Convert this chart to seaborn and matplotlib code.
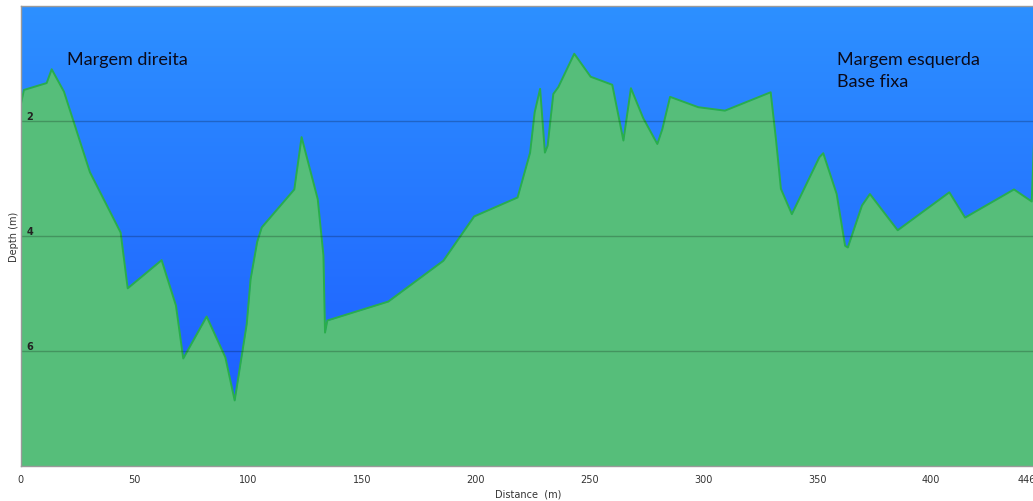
import numpy as np
import pandas as pd
import matplotlib
matplotlib.use("Agg")
import matplotlib.pyplot as plt
import matplotlib.transforms as mtransforms
import seaborn as sns
from matplotlib.colors import LinearSegmentedColormap

# Cross-section survey: distance along the section (m) and bed depth (m)
distance = [0.0, 1.5, 11.5, 13.7, 19.1, 30.5, 44.0, 47.1, 62.0, 68.3, 71.5,
            81.8, 90.0, 94.1, 99.4, 101.1, 104.0, 106.0, 120.3, 123.5, 130.6,
            133.1, 133.8, 134.8, 161.6, 185.8, 199.3, 218.4, 223.9, 225.9,
            228.3, 230.4, 231.6, 234.1, 236.3, 243.3, 250.5, 260.0, 264.9,
            268.2, 273.6, 279.8, 282.0, 285.4, 297.8, 309.5, 329.6, 331.9,
            334.1, 338.9, 351.0, 352.7, 358.6, 362.3, 363.5, 369.7, 373.2,
            385.4, 408.1, 415.0, 436.5, 444.3, 445.3]
depth = [1.74, 1.46, 1.34, 1.10, 1.49, 2.89, 3.94, 4.91, 4.42, 5.21, 6.13,
         5.40, 6.11, 6.86, 5.53, 4.75, 4.10, 3.85, 3.19, 2.28, 3.36,
         4.34, 5.68, 5.47, 5.14, 4.43, 3.66, 3.33, 2.55, 1.85,
         1.44, 2.55, 2.43, 1.53, 1.41, 0.83, 1.23, 1.37, 2.34,
         1.43, 1.95, 2.40, 2.14, 1.58, 1.76, 1.82, 1.50, 2.31,
         3.18, 3.62, 2.63, 2.56, 3.27, 4.17, 4.20, 3.47, 3.27,
         3.90, 3.24, 3.68, 3.19, 3.40, 2.35]

x_ticks = [0, 50, 100, 150, 200, 250, 300, 350, 400, 446]
y_ticks = [2, 4, 6]
max_depth = 8.0

profile = pd.DataFrame({"Distance": distance, "Depth": depth})

sns.set_style("white")
plt.rcParams["font.family"] = ["DejaVu Sans"]

fig = plt.figure(figsize=(10.33, 5.02), dpi=100)
ax = fig.add_axes([20.5 / 1033, 35 / 502, 1015.1 / 1033, 460 / 502])

# water column: vertical blue gradient
water = LinearSegmentedColormap.from_list("water", ["#2D90FF", "#1C58FF"])
grad = np.linspace(0, 1, 256).reshape(-1, 1)
ax.imshow(grad, cmap=water, aspect="auto", extent=[0, 446, max_depth, 0],
          zorder=0, interpolation="bicubic")

# river bed
ax.fill_between(profile["Distance"], profile["Depth"], max_depth,
                color="#56BE7A", linewidth=0, zorder=1)
sns.lineplot(data=profile, x="Distance", y="Depth", ax=ax, sort=False,
             color="#29AE4C", linewidth=1.4, zorder=2)

ax.set_xlim(0, 446)
ax.set_ylim(max_depth, 0)

# depth grid lines drawn over the bed
for yv in y_ticks:
    ax.axhline(yv, color="black", alpha=0.22, linewidth=1.0, zorder=3)

ax.set_xticks(x_ticks)
ax.set_xticklabels([str(v) for v in x_ticks])
ax.set_yticks(y_ticks)
ax.set_yticklabels([str(v) for v in y_ticks])
ax.tick_params(axis="x", direction="out", length=4, width=0.8, color="#808080",
               labelsize=7, labelcolor="#333333", pad=2)
ax.tick_params(axis="y", length=0, pad=-9, labelsize=7, labelcolor="#222222")
for lab in ax.get_yticklabels():
    lab.set_verticalalignment("bottom")
    lab.set_fontweight("bold")
ax.yaxis.set_zorder(5)
ax.xaxis.set_zorder(5)

# nudge the end-of-section label inward a little
last = ax.get_xticklabels()[-1]
last.set_transform(last.get_transform() +
                   mtransforms.ScaledTranslation(-9 / 100, 0, fig.dpi_scale_trans))

ax.set_xlabel("Distance  (m)", fontsize=7, color="#333333", labelpad=3)
ax.set_ylabel("Depth (m)", fontsize=7, color="#333333", labelpad=1)

for side in ["left", "bottom", "top", "right"]:
    ax.spines[side].set_color("#9A9A9A")
    ax.spines[side].set_linewidth(1.0)
    ax.spines[side].set_zorder(6)

label_font = dict(fontsize=13, color="#0A0A1A", family=["Lato", "DejaVu Sans"])
ax.text(20.5, 1.01, "Margem direita", ha="left", va="baseline", zorder=6, **label_font)
ax.text(358.7, 1.01, "Margem esquerda", ha="left", va="baseline", zorder=6, **label_font)
ax.text(358.7, 1.39, "Base fixa", ha="left", va="baseline", zorder=6, **label_font)

fig.savefig("out.png", dpi=100, facecolor="white")
